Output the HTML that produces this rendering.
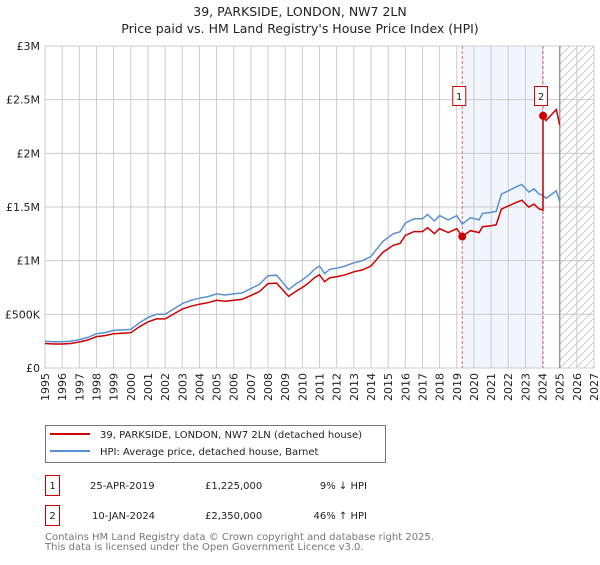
<!DOCTYPE html>
<html><head><meta charset="utf-8"><style>
body{margin:0;background:#fff;font-family:"Liberation Sans","DejaVu Sans",sans-serif;}
svg text{font-family:"DejaVu Sans","Liberation Sans",sans-serif;}
</style></head><body>
<svg id="c" width="600" height="560" xmlns="http://www.w3.org/2000/svg">
<defs><pattern id="hatch" width="8" height="8" patternUnits="userSpaceOnUse"><path d="M0,8 L8,0" stroke="#ccc" stroke-width="1"/></pattern></defs>
<text x="300" y="16" text-anchor="middle" font-size="12.5" fill="#222">39, PARKSIDE, LONDON, NW7 2LN</text>
<text x="300" y="33" text-anchor="middle" font-size="12.5" fill="#222">Price paid vs. HM Land Registry's House Price Index (HPI)</text>
<g id="plot"></g>
<g>
<rect x="45.5" y="425.5" width="340" height="37" fill="#fff" stroke="#777"/>
<line x1="50" y1="434" x2="90" y2="434" stroke="#cc0000" stroke-width="2"/>
<text x="100" y="438" font-size="10" fill="#222">39, PARKSIDE, LONDON, NW7 2LN (detached house)</text>
<line x1="50" y1="451" x2="90" y2="451" stroke="#5b8fd4" stroke-width="2"/>
<text x="100" y="455" font-size="10" fill="#222">HPI: Average price, detached house, Barnet</text>
</g>
<g font-size="10" fill="#222">
<rect x="45.5" y="475.5" width="14" height="20" fill="#fff" stroke="#cc0000"/>
<text x="52.5" y="489" text-anchor="middle">1</text>
<text x="90" y="489">25-APR-2019</text><text x="205" y="489">£1,225,000</text><text x="367" y="489" text-anchor="end">9% ↓ HPI</text>
<rect x="45.5" y="505.5" width="14" height="20" fill="#fff" stroke="#cc0000"/>
<text x="52.5" y="519" text-anchor="middle">2</text>
<text x="92" y="519">10-JAN-2024</text><text x="205" y="519">£2,350,000</text><text x="367" y="519" text-anchor="end">46% ↑ HPI</text>
</g>
<text x="45" y="540" font-size="10" fill="#777">Contains HM Land Registry data © Crown copyright and database right 2025.</text>
<text x="45" y="550" font-size="10" fill="#777">This data is licensed under the Open Government Licence v3.0.</text>
</svg>
<script>
const hpiYears=[1995,1995.5,1996,1996.5,1997,1997.5,1998,1998.5,1999,1999.5,2000,2000.5,2001,2001.5,2002,2002.5,2003,2003.5,2004,2004.5,2005,2005.5,2006,2006.5,2007,2007.5,2008,2008.5,2009.2,2009.6,2010,2010.4,2010.7,2011,2011.3,2011.6,2012,2012.5,2013,2013.5,2014,2014.4,2014.7,2015.3,2015.7,2016,2016.5,2017,2017.3,2017.7,2018,2018.5,2019,2019.32,2019.8,2020.3,2020.5,2021,2021.3,2021.6,2022,2022.5,2022.8,2023.2,2023.5,2023.8,2024.03,2024.2,2024.8,2025.0];
const hpiValues=[250000,245000,245000,250000,265000,285000,320000,330000,350000,355000,360000,420000,470000,500000,500000,550000,600000,630000,650000,665000,690000,680000,690000,700000,740000,780000,860000,865000,730000,780000,820000,870000,920000,950000,880000,920000,930000,950000,980000,1000000,1040000,1120000,1180000,1250000,1270000,1350000,1390000,1390000,1430000,1370000,1420000,1380000,1420000,1340000,1400000,1380000,1440000,1450000,1460000,1620000,1650000,1690000,1710000,1640000,1670000,1620000,1610000,1580000,1650000,1550000];
const saleDates=[2019.32,2024.03];
const salePrices=[1225000,2350000];
const yTicks=[0,500000,1000000,1500000,2000000,2500000,3000000];
const yTickLabels=["£0","£500K","£1M","£1.5M","£2M","£2.5M","£3M"];
const xTicks=[1995,1996,1997,1998,1999,2000,2001,2002,2003,2004,2005,2006,2007,2008,2009,2010,2011,2012,2013,2014,2015,2016,2017,2018,2019,2020,2021,2022,2023,2024,2025,2026,2027];
const L=45,R=594,T=46,B=368,X0=1995,X1=2027,YMAX=3000000;
const sx=v=>L+(v-X0)/(X1-X0)*(R-L), sy=v=>B-v/YMAX*(B-T);
const NS="http://www.w3.org/2000/svg",g=document.getElementById('plot');
function mk(t,a,p){const e=document.createElementNS(NS,t);for(const k in a)e.setAttribute(k,a[k]);(p||g).appendChild(e);return e;}
function interp(x){for(let i=1;i<hpiYears.length;i++){if(x<=hpiYears[i]){const f=(x-hpiYears[i-1])/(hpiYears[i]-hpiYears[i-1]);return hpiValues[i-1]+f*(hpiValues[i]-hpiValues[i-1]);}}return hpiValues[hpiValues.length-1];}
let e=mk('rect',{x:sx(saleDates[0]),y:T,width:sx(saleDates[1])-sx(saleDates[0]),height:B-T,fill:'#eef3fc',opacity:0.8});

e=mk('rect',{x:sx(2025),y:T,width:R-sx(2025),height:B-T,fill:'url(#hatch)'});

xTicks.forEach(v=>{const l=mk('line',{x1:sx(v),x2:sx(v),y1:T,y2:B,stroke:'#ccc','stroke-width':1});

const x=sx(v)+4,y=B+5;
const t=mk('text',{x:x,y:y,'text-anchor':'end','font-size':11,fill:'#222',transform:'rotate(-90 '+x+' '+y+')'});t.textContent=v;
});
yTicks.forEach((v,i)=>{const l=mk('line',{x1:L,x2:R,y1:sy(v),y2:sy(v),stroke:'#ccc','stroke-width':1});

const t=mk('text',{x:L-5,y:sy(v)+4,'text-anchor':'end','font-size':11,fill:'#222'});t.textContent=yTickLabels[i];
});
e=mk('line',{x1:sx(2025),x2:sx(2025),y1:T,y2:B,stroke:'#999','stroke-width':1.5});

saleDates.forEach((d,i)=>{const l=mk('line',{x1:sx(d),x2:sx(d),y1:T,y2:B,stroke:'#e06070','stroke-width':1,'stroke-dasharray':'3,2'});
});
let hp='';hpiYears.forEach((y,i)=>{hp+=(i?'L':'M')+sx(y).toFixed(1)+','+sy(hpiValues[i]).toFixed(1);});
e=mk('path',{d:hp,fill:'none',stroke:'#5b8fd4','stroke-width':1.5});

const r0=salePrices[0]/interp(saleDates[0]),r1=salePrices[1]/interp(saleDates[1]);
let rp='',first=true;
hpiYears.forEach((y,i)=>{if(y<saleDates[1]){rp+=(first?'M':'L')+sx(y).toFixed(1)+','+sy(hpiValues[i]*r0).toFixed(1);first=false;}});
rp+='L'+sx(saleDates[1]).toFixed(1)+','+sy(interp(saleDates[1])*r0).toFixed(1);
rp+='L'+sx(saleDates[1]).toFixed(1)+','+sy(salePrices[1]).toFixed(1);
hpiYears.forEach((y,i)=>{if(y>saleDates[1])rp+='L'+sx(y).toFixed(1)+','+sy(hpiValues[i]*r1).toFixed(1);});
e=mk('path',{d:rp,fill:'none',stroke:'#cc0000','stroke-width':1.5});

saleDates.forEach((d,i)=>{const c=mk('circle',{cx:sx(d),cy:sy(salePrices[i]),r:4,fill:'#cc0000'});

const rr=mk('rect',{x:sx(d)-8.5-(i?0:1),y:86.5,width:13,height:19,fill:'#fff',stroke:'#cc0000'});

const t=mk('text',{x:sx(d)-2-(i?0:1),y:100,'text-anchor':'middle','font-size':10,fill:'#222'});t.textContent=String(i+1);
});
</script>
</body></html>
